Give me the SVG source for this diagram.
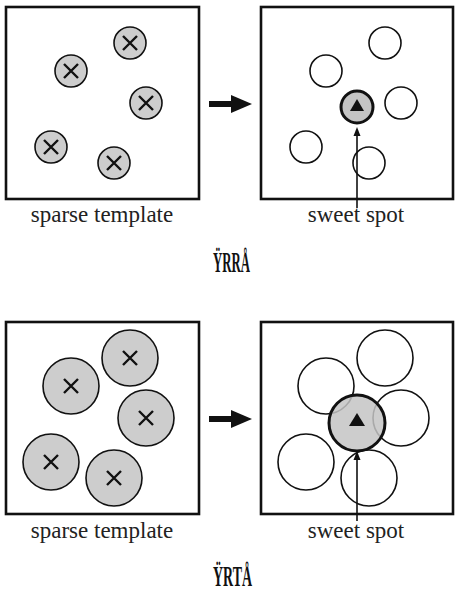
<svg xmlns="http://www.w3.org/2000/svg" width="466" height="591" viewBox="0 0 466 591">
<defs>
<style>
.frame{fill:#fff;stroke:#111;stroke-width:2.6}
.tpl{fill:#cdcdcd;stroke:#111;stroke-width:1.6}
.ring{fill:none;stroke:#111;stroke-width:1.6}
.spot{fill:#c4c4c4;stroke:#111;stroke-width:3}
.x{stroke:#111;stroke-width:2.4;stroke-linecap:butt}
.lbl{font-family:'Liberation Serif','Times New Roman',serif;font-size:23px;fill:#222;text-anchor:middle}
.cap{font-family:'Liberation Serif','Times New Roman',serif;font-size:29px;font-weight:bold;fill:#111}
.thin{stroke:#111;stroke-width:1.6;fill:none}
</style>
<g id="xmark"><path class="x" d="M-7,-7 L7,7 M-7,7 L7,-7"/></g>
</defs>
<rect width="466" height="591" fill="#fff"/>

<!-- Panel (a) -->
<g id="a-template">
<rect class="frame" x="6" y="7" width="193" height="192"/>
<circle class="tpl" cx="130" cy="43" r="16"/><use href="#xmark" x="130" y="43"/>
<circle class="tpl" cx="71" cy="71" r="16"/><use href="#xmark" x="71" y="71"/>
<circle class="tpl" cx="146" cy="103" r="16"/><use href="#xmark" x="146" y="103"/>
<circle class="tpl" cx="51" cy="147" r="16"/><use href="#xmark" x="51" y="147"/>
<circle class="tpl" cx="114" cy="163" r="16"/><use href="#xmark" x="114" y="163"/>
<text class="lbl" x="102" y="222">sparse template</text>
</g>
<g id="a-sweet">
<rect class="frame" x="261" y="7" width="192" height="192"/>
<circle class="ring" cx="385" cy="43" r="16"/>
<circle class="ring" cx="326" cy="71" r="16"/>
<circle class="ring" cx="401" cy="103" r="16"/>
<circle class="ring" cx="306" cy="147" r="16"/>
<circle class="ring" cx="369" cy="163" r="16"/>
<circle class="spot" cx="357" cy="107" r="16"/>
<path d="M357,99 L350,111 L364,111 Z" fill="#111"/>
<text class="lbl" x="356" y="222">sweet spot</text>
</g>
<g id="a-caption"><text class="cap" x="213" y="272" textLength="37" lengthAdjust="spacingAndGlyphs">ŸRRÅ</text></g>

<!-- Panel (b) -->
<g id="b-template">
<rect class="frame" x="6" y="322" width="193" height="192"/>
<circle class="tpl" cx="130" cy="358" r="28"/><use href="#xmark" x="130" y="358"/>
<circle class="tpl" cx="71" cy="386" r="28"/><use href="#xmark" x="71" y="386"/>
<circle class="tpl" cx="146" cy="418" r="28"/><use href="#xmark" x="146" y="418"/>
<circle class="tpl" cx="51" cy="462" r="28"/><use href="#xmark" x="51" y="462"/>
<circle class="tpl" cx="114" cy="478" r="28"/><use href="#xmark" x="114" y="478"/>
<text class="lbl" x="102" y="538">sparse template</text>
</g>
<g id="b-sweet">
<rect class="frame" x="261" y="322" width="192" height="192"/>
<circle class="ring" cx="385" cy="358" r="28"/>
<circle class="ring" cx="326" cy="386" r="28"/>
<circle class="ring" cx="401" cy="418" r="28"/>
<circle class="ring" cx="306" cy="462" r="28"/>
<circle class="ring" cx="369" cy="478" r="28"/>
<circle class="spot" cx="357" cy="423" r="28" style="fill-opacity:0.85"/>
<path d="M357,413 L349,426 L365,426 Z" fill="#111"/>
<text class="lbl" x="356" y="538">sweet spot</text>
</g>
<g id="b-caption"><text class="cap" x="213" y="586" textLength="39" lengthAdjust="spacingAndGlyphs">ŸRTÅ</text></g>

<!-- Connectors -->
<g id="connectors">
<path d="M209,104 H234" stroke="#111" stroke-width="6"/>
<path d="M231,95 L252,104 L231,113 Z" fill="#111"/>
<path d="M209,419 H234" stroke="#111" stroke-width="6"/>
<path d="M231,410 L252,419 L231,428 Z" fill="#111"/>
<path class="thin" d="M357,208 V134"/>
<path d="M357,127 L353.5,136 L360.5,136 Z" fill="#111"/>
<path class="thin" d="M357,521 V458"/>
<path d="M357,451 L353.5,460 L360.5,460 Z" fill="#111"/>
</g>
</svg>
